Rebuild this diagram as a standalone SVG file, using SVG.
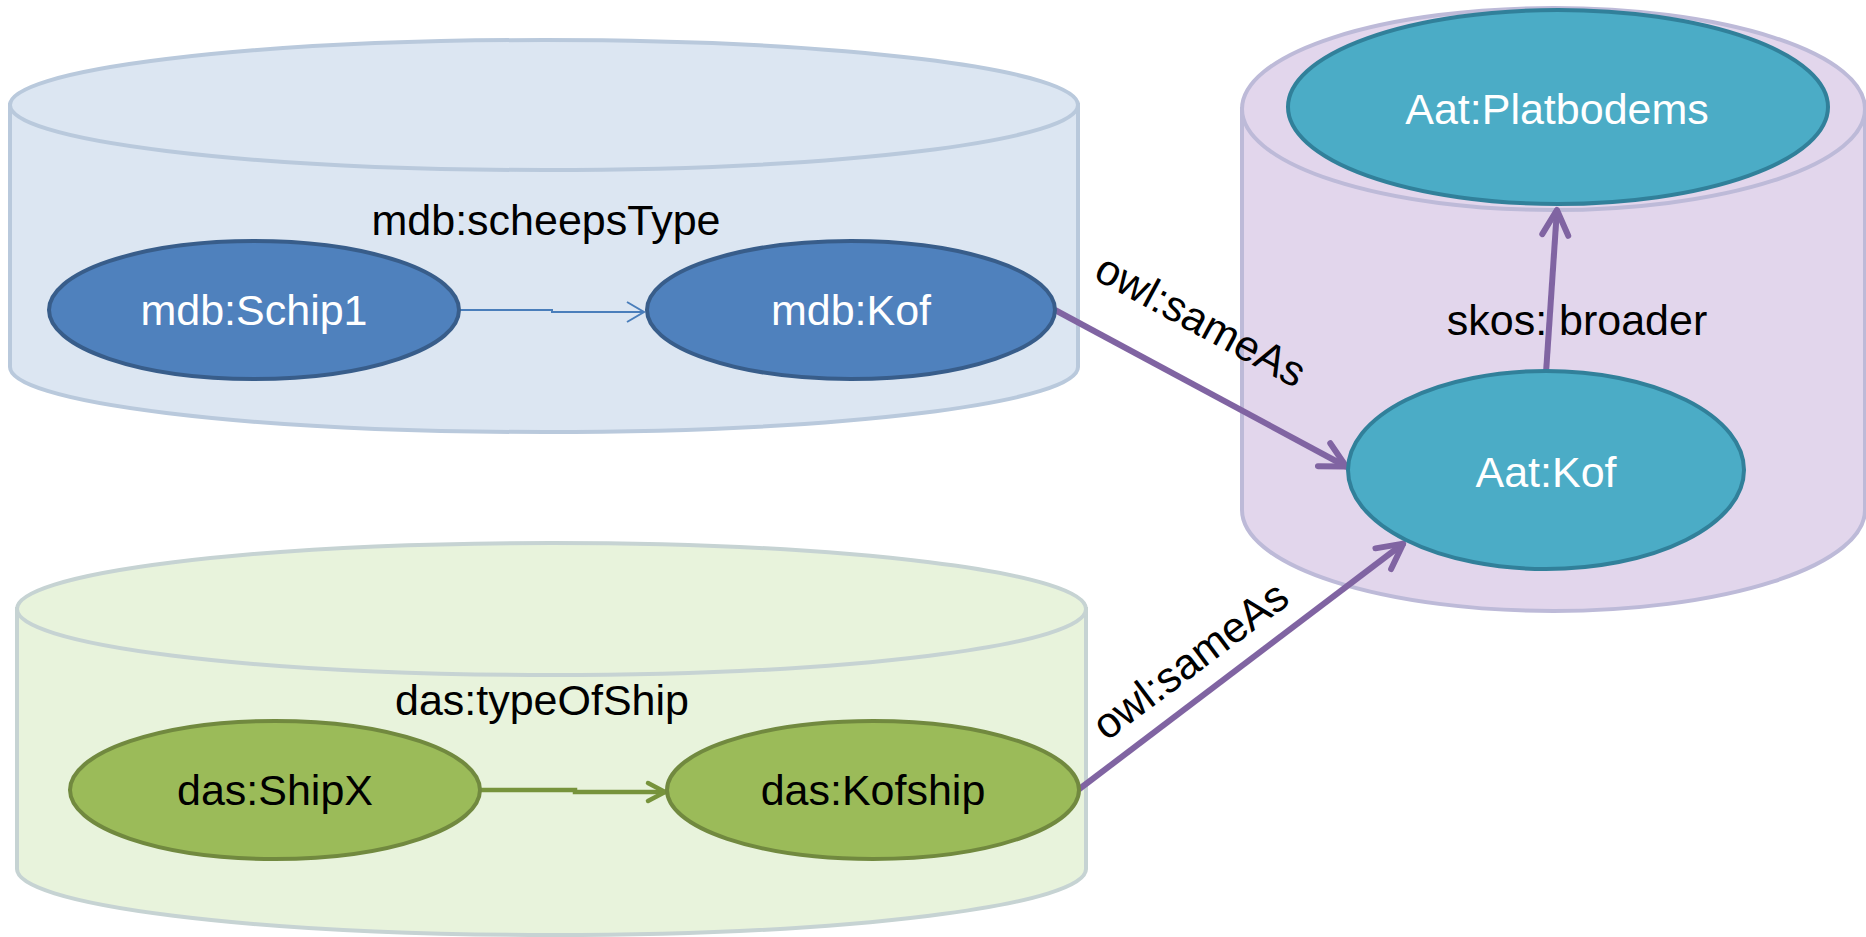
<svg xmlns="http://www.w3.org/2000/svg" width="1866" height="937" viewBox="0 0 1866 937">
<style>
  text { font-family: "Liberation Sans", Arial, sans-serif; font-size: 43px; text-anchor: middle; }
  .lbl { fill: #000000; }
  .wt { fill: #FFFFFF; }
  .cyl-blue { fill: #DCE6F2; stroke: #B9C9DC; stroke-width: 4; }
  .cyl-green { fill: #E8F3DC; stroke: #C6D3D3; stroke-width: 4; }
  .cyl-purple { fill: #E2D6EC; stroke: #BDBAD8; stroke-width: 4; }
  .n-blue { fill: #4F81BD; stroke: #385D8A; stroke-width: 4; }
  .n-green { fill: #9BBB59; stroke: #71893F; stroke-width: 4; }
  .n-teal { fill: #4BACC6; stroke: #31809A; stroke-width: 4; }
  .c-purple { fill: none; stroke: #8064A2; stroke-width: 6; }
  .c-blue { fill: none; stroke: #4A7EBB; stroke-width: 2; }
  .c-green { fill: none; stroke: #77933C; stroke-width: 4.5; }
</style>
<defs>
  <marker id="arr-purple" markerUnits="userSpaceOnUse" markerWidth="60" markerHeight="60" viewBox="-40 -30 60 60" refX="0" refY="0" orient="auto" overflow="visible">
    <path d="M -26,-13 L -1,0 L -26,13" fill="none" stroke="#8064A2" stroke-width="6" stroke-linecap="round" stroke-linejoin="round"/>
  </marker>
  <marker id="arr-blue" markerUnits="userSpaceOnUse" markerWidth="40" markerHeight="40" viewBox="-30 -20 40 40" refX="0" refY="0" orient="auto" overflow="visible">
    <path d="M -17,-10 L 0,0 L -17,10" fill="none" stroke="#4A7EBB" stroke-width="2"/>
  </marker>
  <marker id="arr-green" markerUnits="userSpaceOnUse" markerWidth="40" markerHeight="40" viewBox="-30 -20 40 40" refX="0" refY="0" orient="auto" overflow="visible">
    <path d="M -18,-9 L -1,0 L -18,9" fill="none" stroke="#77933C" stroke-width="4.5" stroke-linecap="round" stroke-linejoin="round"/>
  </marker>
</defs>

<g id="cylinder-mdb">
  <path class="cyl-blue" d="M 10,105 L 10,367 A 534,65 0 0 0 1078,367 L 1078,105 Z"/>
  <ellipse class="cyl-blue" cx="544" cy="105" rx="534" ry="65"/>
  <text class="lbl" x="546" y="235">mdb:scheepsType</text>
</g>

<g id="cylinder-das">
  <path class="cyl-green" d="M 17,609 L 17,869 A 534.5,66 0 0 0 1086,869 L 1086,609 Z"/>
  <ellipse class="cyl-green" cx="551.5" cy="609" rx="534.5" ry="66"/>
  <text class="lbl" x="542" y="715">das:typeOfShip</text>
</g>

<g id="cylinder-aat">
  <path class="cyl-purple" d="M 1242,109 L 1242,510 A 311.5,101 0 0 0 1865,510 L 1865,109 Z"/>
  <ellipse class="cyl-purple" cx="1553.5" cy="109" rx="311.5" ry="101"/>
</g>

<g id="connectors">
  <path class="c-blue" d="M 459,310 H 552 V 312 H 644" marker-end="url(#arr-blue)"/>
  <path class="c-green" d="M 481,790 H 575 V 792 H 666" marker-end="url(#arr-green)"/>
  <line class="c-purple" x1="1055" y1="310" x2="1347" y2="467" marker-end="url(#arr-purple)"/>
  <line class="c-purple" x1="1078" y1="790" x2="1404" y2="543" marker-end="url(#arr-purple)"/>
  <line class="c-purple" x1="1546" y1="373" x2="1557" y2="209" marker-end="url(#arr-purple)"/>
  <text class="lbl" transform="translate(1201,320) rotate(28.5)" x="0" y="15">owl:sameAs</text>
  <text class="lbl" transform="translate(1190,660) rotate(-37)" x="0" y="15">owl:sameAs</text>
  <text class="lbl" x="1577" y="335">skos: broader</text>
</g>

<g id="node-mdb-schip1">
  <ellipse class="n-blue" cx="254" cy="310" rx="205" ry="69"/>
  <text class="wt" x="254" y="325">mdb:Schip1</text>
</g>
<g id="node-mdb-kof">
  <ellipse class="n-blue" cx="851" cy="310" rx="204" ry="69"/>
  <text class="wt" x="851" y="325">mdb:Kof</text>
</g>
<g id="node-das-shipx">
  <ellipse class="n-green" cx="275" cy="790" rx="205" ry="69"/>
  <text class="lbl" x="275" y="805">das:ShipX</text>
</g>
<g id="node-das-kofship">
  <ellipse class="n-green" cx="873" cy="790" rx="206" ry="69"/>
  <text class="lbl" x="873" y="805">das:Kofship</text>
</g>
<g id="node-aat-platbodems">
  <ellipse class="n-teal" cx="1558" cy="107" rx="270" ry="97"/>
  <text class="wt" x="1557" y="124">Aat:Platbodems</text>
</g>
<g id="node-aat-kof">
  <ellipse class="n-teal" cx="1546" cy="470" rx="198" ry="99"/>
  <text class="wt" x="1546" y="487">Aat:Kof</text>
</g>
</svg>
